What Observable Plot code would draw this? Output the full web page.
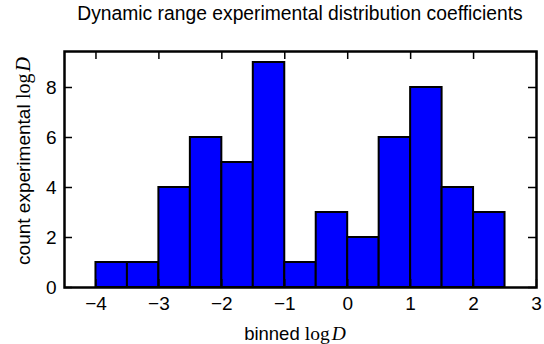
<!DOCTYPE html>
<html><head><meta charset="utf-8">
<script src="https://cdn.jsdelivr.net/npm/d3@7"></script>
<script src="https://cdn.jsdelivr.net/npm/@observablehq/plot@0.6"></script>
<style>
body{margin:0;background:#fff;}
#title{width:544px;height:30px;box-sizing:border-box;padding-left:56px;padding-top:4px;text-align:center;font-family:"Liberation Sans",Arial,sans-serif;font-size:19.3px;line-height:20px;color:#000;}
</style></head><body>
<div id="title">Dynamic range experimental distribution coefficients</div>
<div id="chart"></div>
<script>
const binEdges = [-4,-3.5,-3,-2.5,-2,-1.5,-1,-0.5,0,0.5,1,1.5,2,2.5];
const counts = [1,1,4,6,5,9,1,3,2,6,8,4,3];
const xTicks = [-4,-3,-2,-1,0,1,2,3];
const yTicks = [0,2,4,6,8];
const xDomain = [-4.5,3];
const yDomain = [0,9.44];

const bars = counts.map((c,i)=>({x1:binEdges[i], x2:binEdges[i+1], count:c}));
const W=544,H=314,mL=64,mR=8,mT=21,mB=57;
const innerW=W-mL-mR, innerH=H-mT-mB, tick=8;
const chart = Plot.plot({
  width:W, height:H, marginLeft:mL, marginRight:mR, marginTop:mT, marginBottom:mB,
  style:{fontFamily:'"Liberation Sans", Arial, sans-serif', fontSize:"19px", color:"black", background:"white", overflow:"visible"},
  x:{domain:xDomain},
  y:{domain:yDomain},
  marks:[
    Plot.rectY(bars,{x1:"x1",x2:"x2",y:"count",fill:"#0000ff",stroke:"black",strokeWidth:2,inset:0}),
    Plot.tickX(xTicks,{x:d=>d,insetTop:innerH-tick,stroke:"black",strokeWidth:1.5}),
    Plot.tickX(xTicks,{x:d=>d,insetBottom:innerH-tick,stroke:"black",strokeWidth:1.5}),
    Plot.tickY(yTicks,{y:d=>d,insetRight:innerW-tick,stroke:"black",strokeWidth:1.5}),
    Plot.tickY(yTicks,{y:d=>d,insetLeft:innerW-tick,stroke:"black",strokeWidth:1.5}),
    Plot.axisX({ticks:xTicks,tickSize:0,tickPadding:9,tickFormat:d3.format("d"),label:null,fontSize:19,fill:"black"}),
    Plot.axisY({ticks:yTicks,tickSize:0,tickPadding:8,tickFormat:d3.format("d"),label:null,fontSize:19,fill:"black"}),
    Plot.frame({stroke:"black",strokeWidth:2.5})
  ]
});
document.getElementById("chart").appendChild(chart);
const svg = d3.select(chart);
const serif = '"Liberation Serif", "DejaVu Serif", serif';
const xl = svg.append("text").attr("x",295).attr("y",310).attr("text-anchor","middle")
  .attr("font-size",18.5).attr("fill","black");
xl.append("tspan").text("binned ");
xl.append("tspan").attr("font-family",serif).attr("font-size",19.5).text("log");
xl.append("tspan").attr("font-family",serif).attr("font-size",19.5).attr("font-style","italic").attr("dx",2).text("D");
const yl = svg.append("text").attr("transform","translate(23,131) rotate(-90)").attr("text-anchor","middle")
  .attr("dominant-baseline","central").attr("font-size",19).attr("fill","black");
yl.append("tspan").text("count experimental ");
yl.append("tspan").attr("font-family",serif).attr("font-size",20).text("log");
yl.append("tspan").attr("font-family",serif).attr("font-size",20).attr("font-style","italic").attr("dx",2).text("D");
</script>
</body></html>
